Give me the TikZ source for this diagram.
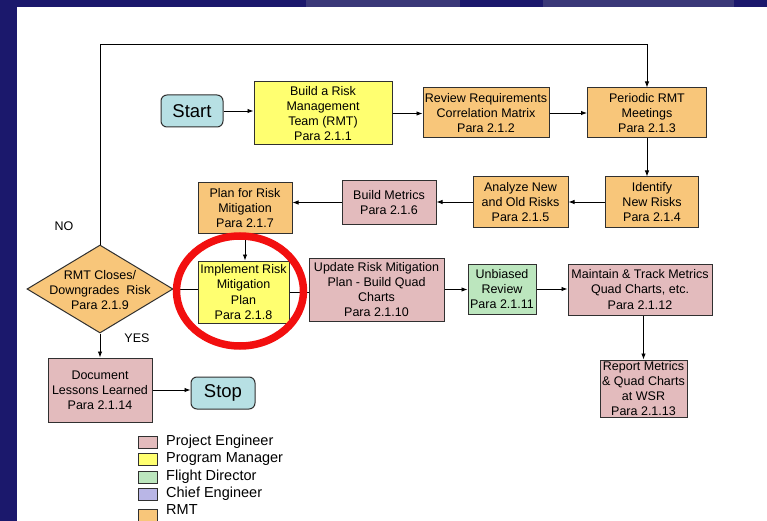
\documentclass[tikz,border=0pt]{standalone}
\usepackage{fontspec}
\setmainfont{Liberation Sans}
\usetikzlibrary{shapes.geometric,arrows.meta}
\definecolor{navy}{HTML}{1B186C}
\definecolor{navylight}{HTML}{3A3878}
\definecolor{rmtc}{HTML}{F8C67A}
\definecolor{pec}{HTML}{E3BBBD}
\definecolor{pmc}{HTML}{FFFF70}
\definecolor{fdc}{HTML}{BCE6BE}
\definecolor{cec}{HTML}{B9B6E6}
\definecolor{startc}{HTML}{B7E0E4}
\definecolor{boxline}{HTML}{303030}
\definecolor{ringred}{HTML}{F20F0F}
\begin{document}
\begin{tikzpicture}[x=1pt,y=-1pt,
  box/.style={draw=boxline, line width=1pt, inner sep=0pt, align=center,
    font=\fontsize{12.5}{15.2}\selectfont, text=black},
  arr/.style={-{Latex[length=6pt,width=4.5pt]}, line width=0.9pt},
  ln/.style={line width=0.9pt},
  legsq/.style={draw=boxline, line width=0.8pt, minimum width=19pt, minimum height=12pt, inner sep=0pt},
  legtxt/.style={anchor=west, inner sep=0pt, font=\fontsize{14.5}{16}\selectfont},
  lbl/.style={inner sep=0pt, font=\fontsize{12.5}{15}\selectfont}]
\useasboundingbox (0,0) rectangle (767,521);
\clip (0,0) rectangle (767,521);
\fill[navy] (0,0) rectangle (767,521);
\fill[navylight] (306,0) rectangle (460,7);
\fill[navylight] (543,0) rectangle (734,7);
\fill[white] (17,7) rectangle (767,521);

% nodes
\node[box, fill=startc, rounded corners=6pt, minimum width=62pt, minimum height=32pt,
  font=\fontsize{18.5}{20}\selectfont] (start) at (192,111) {Start};
\node[box, fill=pmc, minimum width=138pt, minimum height=63pt] (build) at (323,113.5)
  {Build a Risk\\Management\\Team (RMT)\\Para 2.1.1};
\node[box, fill=rmtc, minimum width=126pt, minimum height=50pt] (review) at (486,113)
  {Review Requirements\\Correlation Matrix\\Para 2.1.2};
\node[box, fill=rmtc, minimum width=119pt, minimum height=50pt] (periodic) at (647,113)
  {Periodic RMT\\Meetings\\Para 2.1.3};
\node[box, fill=rmtc, minimum width=93pt, minimum height=50pt] (identify) at (652,202)
  {Identify\\New Risks\\Para 2.1.4};
\node[box, fill=rmtc, minimum width=95pt, minimum height=50pt] (analyze) at (520.5,202)
  {Analyze New\\and Old Risks\\Para 2.1.5};
\node[box, fill=pec, minimum width=94pt, minimum height=43pt] (metrics) at (389,202.5)
  {Build Metrics\\Para 2.1.6};
\node[box, fill=rmtc, minimum width=94pt, minimum height=50pt] (plan) at (245,208)
  {Plan for Risk\\Mitigation\\Para 2.1.7};
\node[box, fill=pmc, minimum width=91pt, minimum height=62pt] (implement) at (243.5,292)
  {Implement Risk\\Mitigation\\Plan\\Para 2.1.8};
\node[diamond, draw=boxline, line width=1pt, fill=rmtc, minimum width=146pt,
  minimum height=88pt, inner sep=0pt, aspect=1.66] (dia) at (100,289) {};
\node[lbl, align=center, font=\fontsize{12.5}{15.2}\selectfont] (diatext) at (100,290)
  {RMT Closes/\\Downgrades\ \ Risk\\Para 2.1.9};
\node[box, fill=pec, minimum width=135pt, minimum height=63pt] (update) at (376.5,289.5)
  {Update Risk Mitigation\\Plan - Build Quad\\Charts\\Para 2.1.10};
\node[box, fill=fdc, minimum width=68pt, minimum height=50pt] (unbiased) at (502,289)
  {Unbiased\\Review\\Para 2.1.11};
\node[box, fill=pec, minimum width=144pt, minimum height=51pt] (maintain) at (640,289.5)
  {Maintain \& Track Metrics\\Quad Charts, etc.\\Para 2.1.12};
\node[box, fill=pec, minimum width=87pt, minimum height=57pt] (report) at (643.5,388.5)
  {Report Metrics\\\& Quad Charts\\at WSR\\Para 2.1.13};
\node[box, fill=pec, minimum width=104pt, minimum height=64pt] (document) at (100,390)
  {Document\\Lessons Learned\\Para 2.1.14};
\node[box, fill=startc, rounded corners=6pt, minimum width=64pt, minimum height=32pt,
  font=\fontsize{18.5}{20}\selectfont] (stop) at (223,393) {Stop};

\node[lbl] (no) at (64,226) {NO};
\node[lbl] (yes) at (137,338) {YES};

% connectors
\coordinate (top) at (98,44);
\draw[arr] (start.east) -- (start.east -| build.west);
\draw[arr] (build.east) -- (build.east -| review.west);
\draw[arr] (review.east) -- (periodic.west);
\draw[arr] (dia.north) -- (dia.north |- top) -| (periodic.north);
\draw[arr] (periodic.south) -- (periodic.south |- identify.north);
\draw[arr] (identify.west) -- (analyze.east);
\draw[arr] (analyze.west) -- (analyze.west -| metrics.east);
\draw[arr] (metrics.west) -- (metrics.west -| plan.east);
\draw[arr] (plan.south) -- (plan.south |- implement.north);
\draw[ln] (dia.east) -- (dia.east -| implement.west);
\draw[ln] (implement.east) -- (implement.east -| update.west);
\draw[arr] (update.east) -- (update.east -| unbiased.west);
\draw[arr] (unbiased.east) -- (unbiased.east -| maintain.west);
\draw[arr] (report.north |- maintain.south) -- (report.north);
\draw[arr] (dia.south) -- (dia.south |- document.north);
\draw[arr] (document.east) -- (document.east -| stop.west);

% highlight ring
\node[ellipse, draw=ringred, line width=7.5pt, minimum width=127pt, minimum height=110pt,
  inner sep=0pt] (ring) at (240,291) {};

% legend
\node[legsq, fill=pec] (sq1) at (147.5,442) {};
\node[legtxt] (lg1) at (166,442) {Project Engineer};
\node[legsq, fill=pmc] (sq2) at (147.5,459.5) {};
\node[legtxt] (lg2) at (166,459.5) {Program Manager};
\node[legsq, fill=fdc] (sq3) at (147.5,477) {};
\node[legtxt] (lg3) at (166,477) {Flight Director};
\node[legsq, fill=cec] (sq4) at (147.5,494.5) {};
\node[legtxt] (lg4) at (166,494) {Chief Engineer};
\node[legsq, fill=rmtc] (sq5) at (147.5,515) {};
\node[legtxt] (lg5) at (166,510) {RMT};
\end{tikzpicture}
\end{document}
